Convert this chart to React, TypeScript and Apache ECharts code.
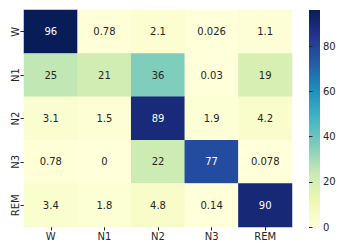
import React, { useEffect, useRef } from "react";
import * as echarts from "echarts";

const stages = ["W", "N1", "N2", "N3", "REM"];
const rowW = [96, 0.78, 2.1, 0.026, 1.1];
const rowN1 = [25, 21, 36, 0.03, 19];
const rowN2 = [3.1, 1.5, 89, 1.9, 4.2];
const rowN3 = [0.78, 0, 22, 77, 0.078];
const rowREM = [3.4, 1.8, 4.8, 0.14, 90];
const rows = [rowW, rowN1, rowN2, rowN3, rowREM];
const colorbarTicks = [0, 20, 40, 60, 80];
const vMax = 96;
const palette = ["#ffffd9", "#edf8b1", "#c7e9b4", "#7fcdbb", "#41b6c4", "#1d91c0", "#225ea8", "#253494", "#081d58"];

function hexToRgb(h: string) {
  return [parseInt(h.slice(1, 3), 16), parseInt(h.slice(3, 5), 16), parseInt(h.slice(5, 7), 16)];
}
function colorAt(v: number) {
  const t = Math.max(0, Math.min(1, v / vMax)) * (palette.length - 1);
  const i = Math.min(palette.length - 2, Math.floor(t));
  const f = t - i;
  const a = hexToRgb(palette[i]);
  const b = hexToRgb(palette[i + 1]);
  return a.map((c, k) => c + (b[k] - c) * f);
}
function lum(rgb: number[]) {
  const c = rgb.map((x) => {
    const s = x / 255;
    return s <= 0.03928 ? s / 12.92 : Math.pow((s + 0.055) / 1.055, 2.4);
  });
  return 0.2126 * c[0] + 0.7152 * c[1] + 0.0722 * c[2];
}

export default function App() {
  const ref = useRef<HTMLDivElement>(null);
  useEffect(() => {
    const chart = echarts.init(ref.current!, null, { renderer: "svg" });
    const data: any[] = [];
    rows.forEach((row, yi) =>
      row.forEach((v, xi) => {
        const dark = lum(colorAt(v)) > 0.408;
        data.push({
          value: [xi, yi, v],
          label: { color: dark ? "#262626" : "#ffffff" },
        });
      })
    );
    const font = "DejaVu Sans";
    chart.setOption({
      animation: false,
      grid: [
        { left: 24, top: 10, width: 268, height: 217 },
        { left: 309, top: 10, width: 11, height: 217 },
      ],
      xAxis: [
        {
          type: "category",
          data: stages,
          gridIndex: 0,
          axisLine: { show: false },
          axisTick: { show: true, alignWithLabel: true, length: 3.5, lineStyle: { color: "#262626" } },
          axisLabel: { fontFamily: font, fontSize: 10, color: "#262626", margin: 4 },
          splitLine: { show: false },
        },
        { type: "value", gridIndex: 1, show: false, min: 0, max: 1 },
      ],
      yAxis: [
        {
          type: "category",
          data: stages,
          inverse: true,
          gridIndex: 0,
          axisLine: { show: false },
          axisTick: { show: true, alignWithLabel: true, length: 3.5, lineStyle: { color: "#262626" } },
          axisLabel: { fontFamily: font, fontSize: 10, color: "#262626", rotate: 90, margin: 4 },
          splitLine: { show: false },
        },
        {
          type: "value",
          gridIndex: 1,
          min: 0,
          max: vMax,
          position: "right",
          axisLine: { show: false },
          splitLine: { show: false },
          axisTick: { show: true, length: 3.5, customValues: colorbarTicks, lineStyle: { color: "#262626" } },
          axisLabel: { fontFamily: font, fontSize: 10, color: "#262626", margin: 3, customValues: colorbarTicks },
        },
      ],
      visualMap: {
        show: false,
        min: 0,
        max: vMax,
        seriesIndex: 0,
        dimension: 2,
        inRange: { color: palette },
      },
      graphic: [
        {
          type: "rect",
          shape: { x: 309, y: 10, width: 11, height: 217 },
          style: {
            fill: new echarts.graphic.LinearGradient(
              0, 1, 0, 0,
              palette.map((c, i) => ({ offset: i / (palette.length - 1), color: c }))
            ),
          },
          z: -1,
        },
      ],
      series: [
        {
          type: "heatmap",
          xAxisIndex: 0,
          yAxisIndex: 0,
          data,
          label: {
            show: true,
            fontFamily: font,
            fontSize: 10,
            formatter: (p: any) => String(Number(Number(p.value[2]).toPrecision(2))),
          },
          itemStyle: { borderWidth: 0 },
          emphasis: { disabled: true },
        },
      ],
    });
    return () => chart.dispose();
  }, []);
  return <div ref={ref} style={{ width: 346, height: 252, position: "absolute", left: 0, top: 0 }} />;
}
